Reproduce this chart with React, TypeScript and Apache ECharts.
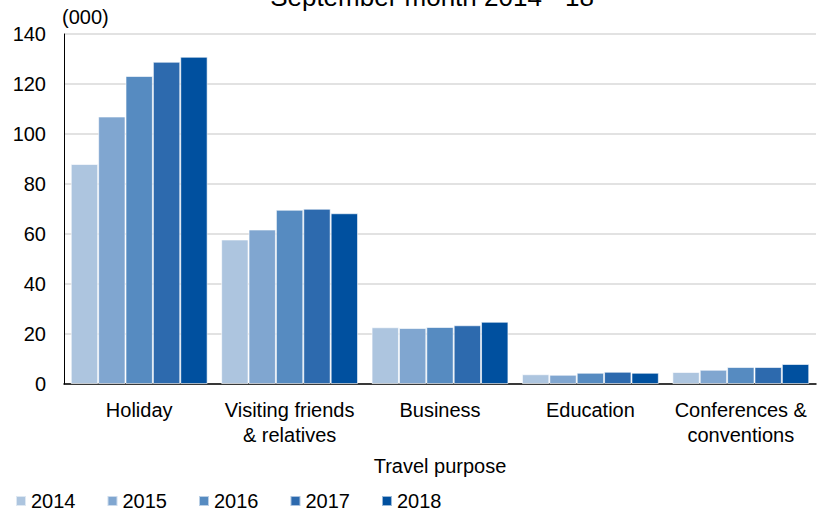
import React, { useEffect, useRef } from "react";
import * as echarts from "echarts";

const categories = [
  "Holiday",
  "Visiting friends\n& relatives",
  "Business",
  "Education",
  "Conferences &\nconventions",
];
const years = ["2014", "2015", "2016", "2017", "2018"];
const values2014 = [88, 57.8, 22.7, 3.9, 4.8];
const values2015 = [107, 61.8, 22.4, 3.7, 5.7];
const values2016 = [123.2, 69.7, 22.8, 4.5, 6.8];
const values2017 = [128.9, 70.1, 23.5, 4.9, 6.8];
const values2018 = [130.9, 68.3, 24.9, 4.5, 8.0];
const seriesValues = [values2014, values2015, values2016, values2017, values2018];
const colors = ["#adc5df", "#80a6d0", "#568bc1", "#2d6aae", "#00509f"];
const yTicks = { min: 0, max: 140, interval: 20 };
const titleText = "September month 2014 - 18";
const unitText = "(000)";
const xAxisName = "Travel purpose";

const FONT = "'Liberation Sans', Arial, sans-serif";
const FS = 20;

export default function App() {
  const ref = useRef<HTMLDivElement>(null);
  useEffect(() => {
    if (!ref.current) return;
    const chart = echarts.init(ref.current, null, { renderer: "svg" });
    chart.setOption({
      animation: false,
      backgroundColor: "#ffffff",
      textStyle: { fontFamily: FONT },
      title: {
        text: titleText,
        left: 427,
        textAlign: "center",
        top: -21,
        textStyle: { fontFamily: FONT, fontSize: 26, fontWeight: "normal", color: "#000" },
      },
      graphic: [
        {
          type: "text",
          left: 62,
          top: 7,
          style: { text: unitText, fontFamily: FONT, fontSize: FS, fill: "#000" },
        },
      ],
      legend: {
        left: 15,
        top: 491,
        padding: 0,
        itemWidth: 10,
        itemHeight: 10,
        itemGap: 31,
        icon: "rect",
        textStyle: { fontFamily: FONT, fontSize: FS, color: "#000" },
        data: years,
      },
      grid: { left: 64, right: 6, top: 34, bottom: 131, containLabel: false },
      xAxis: {
        type: "category",
        data: categories,
        name: xAxisName,
        nameLocation: "middle",
        nameGap: 72,
        nameTextStyle: { fontFamily: FONT, fontSize: FS, color: "#000" },
        axisLine: { lineStyle: { color: "#000", width: 1.5 } },
        axisTick: { show: false },
        axisLabel: {
          fontFamily: FONT,
          fontSize: FS,
          color: "#000",
          margin: 13,
          lineHeight: 25,
          interval: 0,
        },
      },
      yAxis: {
        type: "value",
        min: yTicks.min,
        max: yTicks.max,
        interval: yTicks.interval,
        axisLine: { show: true, lineStyle: { color: "#000", width: 1 } },
        axisTick: { show: false },
        axisLabel: { fontFamily: FONT, fontSize: FS, color: "#000", margin: 18 },
        splitLine: { lineStyle: { color: "#d9d9d9", width: 1.5 } },
      },
      series: years.map((y, i) => ({
        name: y,
        type: "bar",
        data: seriesValues[i],
        barGap: "0%",
        barCategoryGap: "9%",
        itemStyle: { color: colors[i], borderColor: "rgba(255,255,255,0.6)", borderWidth: 1 },
      })),
    });
    return () => chart.dispose();
  }, []);
  return <div ref={ref} style={{ width: 822, height: 515, position: "absolute", left: 0, top: 0 }} />;
}
